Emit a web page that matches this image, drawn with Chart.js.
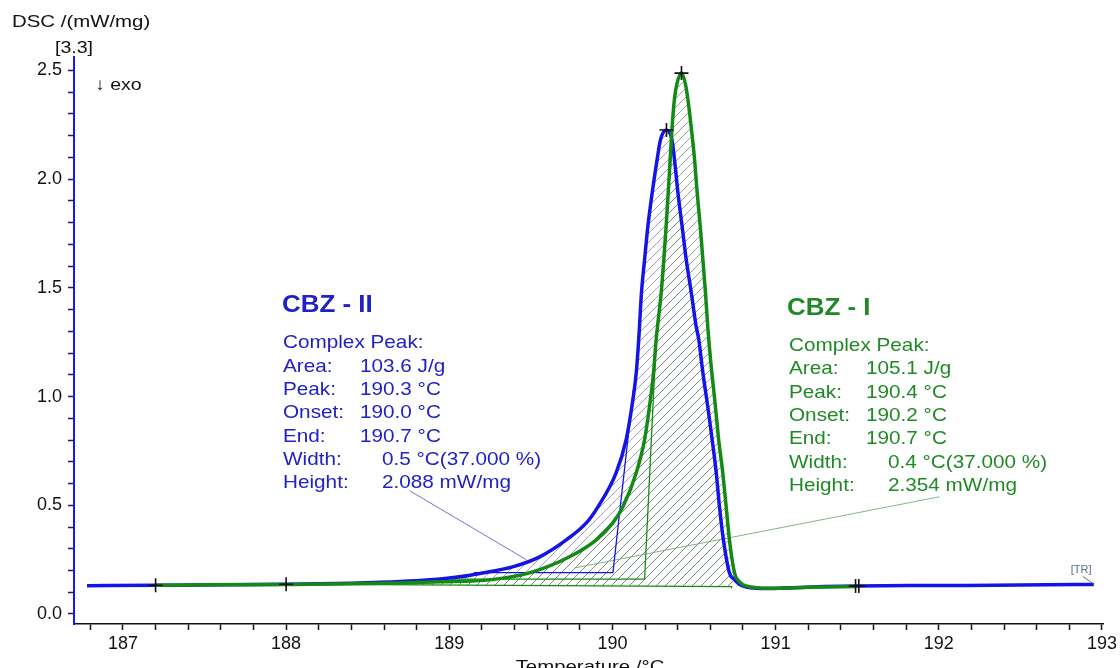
<!DOCTYPE html>
<html>
<head>
<meta charset="utf-8">
<script src="https://cdn.jsdelivr.net/npm/chart.js@4/dist/chart.umd.min.js"></script>
<style>
html, body { margin: 0; padding: 0; background: #fff; }
</style>
</head>
<body>
<canvas id="dsc" width="1120" height="668"></canvas>
<script>
// CBZ - II (blue) trace
var blueT = [186.78, 187.2, 187.6, 188.0, 188.4, 188.7, 188.88, 189.05, 189.205, 189.388, 189.554, 189.717,
  189.84, 189.911, 190.023, 190.084, 190.119, 190.146, 190.161, 190.178, 190.197, 190.217, 190.244, 190.274,
  190.294, 190.331, 190.365, 190.38, 190.401, 190.427, 190.452, 190.483, 190.513, 190.529, 190.554, 190.584,
  190.611, 190.636, 190.656, 190.68, 190.717, 190.745, 190.775, 190.82, 190.88, 190.95, 191.1, 191.3, 191.5,
  192.0, 192.5, 192.95];
var blueV = [0.130, 0.132, 0.134, 0.137, 0.142, 0.149, 0.157, 0.170, 0.189, 0.217, 0.263, 0.341,
  0.419, 0.493, 0.650, 0.802, 0.954, 1.111, 1.263, 1.479, 1.631, 1.783, 1.940, 2.092,
  2.180, 2.226, 2.180, 2.092, 1.940, 1.783, 1.631, 1.479, 1.323, 1.263, 1.111, 0.954,
  0.802, 0.650, 0.493, 0.341, 0.189, 0.160, 0.138, 0.124, 0.118, 0.117, 0.121, 0.126, 0.129,
  0.131, 0.133, 0.136];

// CBZ - I (green) trace
var greenT = [187.2, 187.6, 188.0, 188.4, 188.7, 188.95, 189.247, 189.492, 189.737, 189.901, 190.002, 190.064,
  190.146, 190.197, 190.227, 190.252, 190.268, 190.299, 190.315, 190.329, 190.342, 190.354, 190.366, 190.38,
  190.395, 190.423, 190.447, 190.462, 190.482, 190.503, 190.519, 190.538, 190.554, 190.57, 190.584, 190.601,
  190.631, 190.651, 190.676, 190.697, 190.717, 190.748, 190.77, 190.8, 190.85, 190.92, 191.0, 191.2, 191.5];
var greenV = [0.132, 0.134, 0.136, 0.139, 0.143, 0.148, 0.157, 0.189, 0.263, 0.341, 0.419, 0.493,
  0.650, 0.802, 0.954, 1.111, 1.263, 1.479, 1.631, 1.783, 1.940, 2.092, 2.244, 2.369,
  2.438, 2.488, 2.438, 2.369, 2.244, 2.092, 1.940, 1.783, 1.631, 1.479, 1.323, 1.171,
  0.954, 0.802, 0.650, 0.493, 0.341, 0.189, 0.155, 0.135, 0.124, 0.119, 0.119, 0.123, 0.127];

// integration baseline and construction lines
var baseT = [188.0, 190.73, 190.73];
var baseV = [0.137, 0.126, 0.119];
var blueOnsetT = [189.15, 190.003, 190.128];
var blueOnsetV = [0.19, 0.19, 1.03];
var greenOnsetT = [189.0, 190.197, 190.268];
var greenOnsetV = [0.16, 0.16, 1.263];
var bluePtrT = [188.757, 189.474];
var bluePtrV = [0.567, 0.249];
var greenPtrT = [192.003, 189.768];
var greenPtrV = [0.539, 0.212];
var crossT = [187.2, 188.0, 191.49, 191.51, 190.331, 190.423];
var crossV = [0.132, 0.137, 0.129, 0.129, 2.226, 2.488];
var hatchFrom = 188.0, hatchTo = 190.76;

// peak result texts
var infoLabels = ['Area:', 'Peak:', 'Onset:', 'End:', 'Width:', 'Height:'];
var cbz2Values = ['103.6 J/g', '190.3 °C', '190.0 °C', '190.7 °C', '0.5 °C(37.000 %)', '2.088 mW/mg'];
var cbz1Values = ['105.1 J/g', '190.4 °C', '190.2 °C', '190.7 °C', '0.4 °C(37.000 %)', '2.354 mW/mg'];

var BLUE = '#1414e6', GREEN = '#138a13';
var BLUE_TXT = '#2121c4', GREEN_TXT = '#1f8a25';

function pts(xs, ys) {
    var out = [];
    for (let i = 0; i < xs.length; i++) out.push({ x: xs[i], y: ys[i] });
    return out;
}

function baseAt(t) {
    var f = (t - baseT[0]) / (baseT[1] - baseT[0]);
    return baseV[0] + f * (baseV[1] - baseV[0]);
}

function makeHatch(ctx, color) {
    var c = document.createElement('canvas');
    c.width = 9; c.height = 9;
    var g = c.getContext('2d');
    g.strokeStyle = color;
    g.lineWidth = 1;
    g.beginPath();
    g.moveTo(0, 9); g.lineTo(9, 0);
    g.moveTo(-1, 1); g.lineTo(1, -1);
    g.moveTo(8, 10); g.lineTo(10, 8);
    g.stroke();
    return ctx.createPattern(c, 'repeat');
}

var hatchPlugin = {
    id: 'hatch',
    beforeDatasetsDraw: function (chart) {
        var ctx = chart.ctx, sx = chart.scales.x, sy = chart.scales.y;
        var areas = [[blueT, blueV, 'rgba(120,120,180,0.7)'], [greenT, greenV, 'rgba(105,125,105,0.7)']];
        ctx.save();
        areas.forEach(function (a) {
            var xs = a[0], ys = a[1];
            ctx.beginPath();
            ctx.moveTo(sx.getPixelForValue(hatchFrom), sy.getPixelForValue(baseAt(hatchFrom)));
            for (let i = 0; i < xs.length; i++) {
                if (xs[i] >= hatchFrom && xs[i] <= hatchTo) {
                    ctx.lineTo(sx.getPixelForValue(xs[i]), sy.getPixelForValue(ys[i]));
                }
            }
            ctx.lineTo(sx.getPixelForValue(hatchTo), sy.getPixelForValue(baseAt(hatchTo)));
            ctx.closePath();
            ctx.fillStyle = makeHatch(ctx, a[2]);
            ctx.fill();
        });
        ctx.restore();
    }
};

function wideText(ctx, s, x, y, k) {
    ctx.save();
    ctx.translate(x, y);
    ctx.scale(k, 1);
    ctx.fillText(s, 0, 0);
    ctx.restore();
}

var textPlugin = {
    id: 'texts',
    afterDraw: function (chart) {
        var ctx = chart.ctx;
        ctx.save();
        ctx.textBaseline = 'alphabetic';
        ctx.textAlign = 'left';
        ctx.fillStyle = '#111';
        ctx.font = '17px "Liberation Sans", Arial, sans-serif';
        wideText(ctx, 'DSC /(mW/mg)', 12, 27, 1.2);
        wideText(ctx, '[3.3]', 55, 53, 1.15);
        wideText(ctx, '↓ exo', 95, 90, 1.15);
        ctx.textAlign = 'center';
        wideText(ctx, 'Temperature /°C', 590, 672, 1.2);

        // CBZ - II block
        ctx.textAlign = 'left';
        ctx.fillStyle = BLUE_TXT;
        ctx.font = 'bold 24px "Liberation Sans", Arial, sans-serif';
        wideText(ctx, 'CBZ - II', 282, 312, 1.08);
        ctx.font = '18.5px "Liberation Sans", Arial, sans-serif';
        wideText(ctx, 'Complex Peak:', 283, 348, 1.12);
        for (let i = 0; i < infoLabels.length; i++) {
            var y = 371.7 + 23.33 * i;
            wideText(ctx, infoLabels[i], 283, y, 1.12);
            wideText(ctx, cbz2Values[i], i < 4 ? 360 : 382, y, 1.12);
        }

        // CBZ - I block
        ctx.fillStyle = GREEN_TXT;
        ctx.font = 'bold 24px "Liberation Sans", Arial, sans-serif';
        wideText(ctx, 'CBZ - I', 787, 315, 1.08);
        ctx.font = '18.5px "Liberation Sans", Arial, sans-serif';
        wideText(ctx, 'Complex Peak:', 789, 351, 1.12);
        for (let i = 0; i < infoLabels.length; i++) {
            var y2 = 374.3 + 23.33 * i;
            wideText(ctx, infoLabels[i], 789, y2, 1.12);
            wideText(ctx, cbz1Values[i], i < 4 ? 866 : 888, y2, 1.12);
        }

        // [TR] tag at the end of the trace
        var sx = chart.scales.x, sy = chart.scales.y;
        var ex = sx.getPixelForValue(blueT[blueT.length - 1]);
        var ey = sy.getPixelForValue(blueV[blueV.length - 1]);
        ctx.fillStyle = '#5a6a8a';
        ctx.font = '11px "Liberation Sans", Arial, sans-serif';
        ctx.fillText('[TR]', ex - 23, ey - 11);
        ctx.strokeStyle = '#5a6a8a';
        ctx.lineWidth = 1;
        ctx.beginPath();
        ctx.moveTo(ex - 11, ey - 8);
        ctx.lineTo(ex - 1, ey - 1);
        ctx.stroke();
        ctx.restore();
    }
};

var canvas = document.getElementById('dsc');
var grafico = new Chart(canvas, {
    type: 'line',
    data: {
        datasets: [
            {
                label: 'marks',
                data: pts(crossT, crossV),
                showLine: false,
                pointStyle: 'cross',
                pointRadius: 7,
                pointBorderColor: '#111',
                pointBorderWidth: 1.6,
                order: 0
            },
            {
                label: 'CBZ - I',
                data: pts(greenT, greenV),
                borderColor: GREEN,
                borderWidth: 3.5,
                cubicInterpolationMode: 'monotone',
                pointRadius: 0,
                order: 1
            },
            {
                label: 'CBZ - II',
                data: pts(blueT, blueV),
                borderColor: BLUE,
                borderWidth: 3.5,
                cubicInterpolationMode: 'monotone',
                pointRadius: 0,
                order: 2
            },
            {
                label: 'baseline',
                data: pts(baseT, baseV),
                borderColor: GREEN,
                borderWidth: 1.3,
                pointRadius: 0,
                order: 3
            },
            {
                label: 'blue onset',
                data: pts(blueOnsetT, blueOnsetV),
                borderColor: BLUE,
                borderWidth: 1.3,
                pointRadius: 0,
                order: 3
            },
            {
                label: 'green onset',
                data: pts(greenOnsetT, greenOnsetV),
                borderColor: GREEN,
                borderWidth: 1.3,
                pointRadius: 0,
                order: 3
            },
            {
                label: 'blue pointer',
                data: pts(bluePtrT, bluePtrV),
                borderColor: 'rgba(80,80,190,0.8)',
                borderWidth: 1,
                pointRadius: 0,
                order: 4
            },
            {
                label: 'green pointer',
                data: pts(greenPtrT, greenPtrV),
                borderColor: 'rgba(120,170,120,0.9)',
                borderWidth: 1,
                pointRadius: 0,
                order: 4
            }
        ]
    },
    options: {
        responsive: false,
        animation: false,
        layout: { padding: { left: 0, top: 57, right: 15, bottom: 0 } },
        plugins: {
            legend: { display: false },
            tooltip: { enabled: false }
        },
        scales: {
            x: {
                type: 'linear',
                min: 186.70,
                max: 193.01,
                afterFit: function (s) { s.height = 44; },
                border: { display: true, color: '#111', width: 1.5 },
                grid: {
                    drawOnChartArea: false,
                    tickLength: 6,
                    tickWidth: 1.5,
                    tickColor: function (c) {
                        var v = c.tick ? c.tick.value : 0;
                        return Math.abs(v * 5 - Math.round(v * 5)) < 1e-6 ? '#111' : 'rgba(0,0,0,0)';
                    }
                },
                ticks: {
                    stepSize: 0.2,
                    maxTicksLimit: 1000,
                    includeBounds: false,
                    autoSkip: false,
                    maxRotation: 0,
                    padding: 3,
                    color: '#111',
                    font: { family: '"Liberation Sans", Arial, sans-serif', size: 18 },
                    callback: function (v) {
                        var r = Math.round(v);
                        return Math.abs(v - r) < 1e-6 ? String(r) : '';
                    }
                }
            },
            y: {
                type: 'linear',
                min: -0.046,
                max: 2.562,
                afterFit: function (s) { s.width = 74; },
                border: { display: true, color: '#1515ff', width: 2 },
                grid: {
                    drawOnChartArea: false,
                    tickLength: 6,
                    tickWidth: 1.5,
                    tickColor: function (c) {
                        var v = c.tick ? c.tick.value : 0;
                        return Math.abs(v * 10 - Math.round(v * 10)) < 1e-6 ? '#223' : 'rgba(0,0,0,0)';
                    }
                },
                ticks: {
                    stepSize: 0.1,
                    maxTicksLimit: 1000,
                    includeBounds: false,
                    autoSkip: false,
                    padding: 6,
                    color: '#111',
                    font: { family: '"Liberation Sans", Arial, sans-serif', size: 18 },
                    callback: function (v) {
                        var r = Math.round(v * 2) / 2;
                        return Math.abs(v - r) < 1e-6 ? r.toFixed(1) : '';
                    }
                }
            }
        }
    },
    plugins: [hatchPlugin, textPlugin]
});
</script>
</body>
</html>
